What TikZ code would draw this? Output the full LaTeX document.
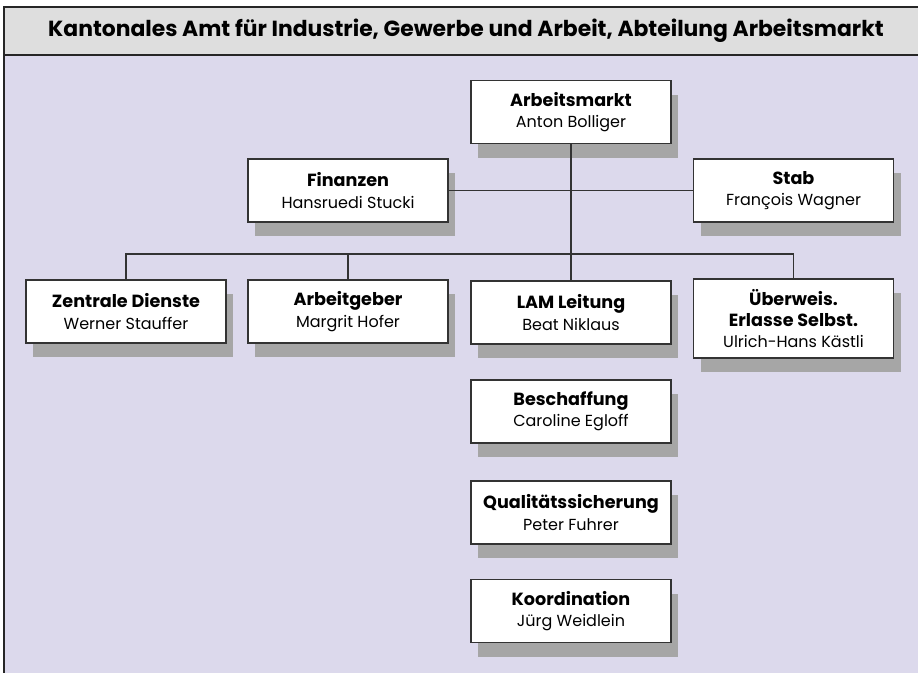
\documentclass[tikz,border=0pt]{standalone}
\usepackage{fontspec}
\setmainfont{Poppins}
\definecolor{headgray}{HTML}{DEDEDE}
\definecolor{bodylav}{HTML}{DCD9EC}
\definecolor{shadowgray}{HTML}{A6A6A6}
\definecolor{linedark}{HTML}{333333}
\newcommand{\boxhead}[1]{{\fontsize{13.2}{16}\selectfont\bfseries #1}}
\begin{document}
\begin{tikzpicture}[x=0.75pt,y=-0.75pt,
  orgbox/.style={draw=linedark, line width=1.3pt, fill=white, minimum width=150pt, minimum height=47.25pt,
     inner sep=0pt, align=center, font=\fontsize{12}{16}\selectfont,
     preaction={fill=shadowgray, transform canvas={shift={(7,14)}}}},
  conn/.style={draw=linedark, line width=1.4pt},
  frameline/.style={draw=black!85, line width=1.6pt}]
\useasboundingbox (0,0) rectangle (918,672);
\begin{scope}
\clip (0,0) rectangle (918,672);
\fill[bodylav] (4,55) rectangle (930,690);
\fill[headgray] (4,7) rectangle (930,55);
\draw[frameline] (4,690) -- (4,7) -- (930,7);
\draw[frameline] (4,55) -- (930,55);
\end{scope}
\node[font=\fontsize{16.4}{18}\selectfont\bfseries] (title) at (466,31) {Kantonales Amt für Industrie, Gewerbe und Arbeit, Abteilung Arbeitsmarkt};

\node[orgbox] (arb) at (571,112) {\boxhead{Arbeitsmarkt}\\Anton Bolliger};
\node[orgbox] (fin) at (348,190.5) {\boxhead{Finanzen}\\Hansruedi Stucki};
\node[orgbox] (stab) at (793.5,190.5) {\boxhead{Stab}\\François Wagner};
\node[orgbox] (zd) at (126,311.5) {\boxhead{Zentrale Dienste}\\Werner Stauffer};
\node[orgbox] (ag) at (348,311.5) {\boxhead{Arbeitgeber}\\Margrit Hofer};
\node[orgbox] (lam) at (571,312.5) {\boxhead{LAM Leitung}\\Beat Niklaus};
\node[orgbox, minimum height=59.25pt] (ueb) at (793.5,318.5) {\boxhead{Überweis.}\\\boxhead{Erlasse Selbst.}\\Ulrich-Hans Kästli};
\node[orgbox] (bes) at (571,411.5) {\boxhead{Beschaffung}\\Caroline Egloff};
\node[orgbox] (qs) at (571,512.5) {\boxhead{Qualitätssicherung}\\Peter Fuhrer};
\node[orgbox] (ko) at (571,611) {\boxhead{Koordination}\\Jürg Weidlein};

\coordinate (bus) at (571,254);
\draw[conn] (arb.south) -- (lam.north);
\draw[conn] (fin.east) -- (stab.west);
\draw[conn] (zd.north) -- (zd.north |- bus) -- (ueb.north |- bus) -- (ueb.north);
\draw[conn] (ag.north) -- (ag.north |- bus);
\end{tikzpicture}
\end{document}
